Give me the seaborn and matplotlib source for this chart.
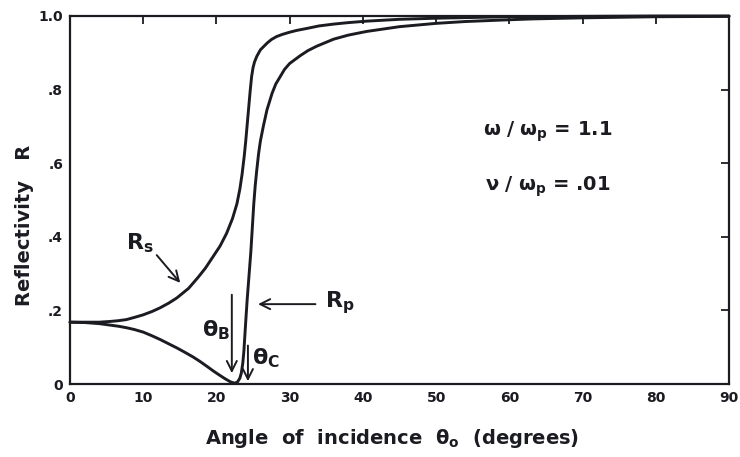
import matplotlib
matplotlib.use("Agg")
import matplotlib.pyplot as plt
import seaborn as sns
import pandas as pd

# Reflectivity of an s- and p-polarised wave at a plasma boundary
rs_angle = [0, 2, 4, 5.5, 6.6, 7.7, 8.8, 10, 11.2, 12.3, 13.5, 14.6, 15.4,
            16.2, 17.5, 18.5, 19.5, 20.5, 21.4, 22.2, 22.8, 23.2, 23.5, 23.8,
            24.0, 24.2, 24.4, 24.6, 24.8, 25.0, 25.2, 25.5, 26.0, 26.5, 26.9,
            27.5, 28.2, 29.0, 30.0, 31.0, 32.3, 34, 36, 38, 40.5, 45, 50, 55,
            60, 70, 80, 90]
rs_value = [0.168, 0.168, 0.168, 0.170, 0.172, 0.175, 0.181, 0.188, 0.197,
            0.207, 0.220, 0.234, 0.247, 0.26, 0.29, 0.315, 0.345, 0.375, 0.41,
            0.45, 0.49, 0.53, 0.57, 0.62, 0.66, 0.705, 0.75, 0.795, 0.835,
            0.86, 0.875, 0.89, 0.908, 0.918, 0.926, 0.936, 0.944, 0.950,
            0.956, 0.961, 0.966, 0.973, 0.978, 0.982, 0.986, 0.991, 0.994,
            0.996, 0.998, 0.999, 1.0, 1.0]

rp_angle = [0, 2, 4, 5.5, 6.6, 7.7, 8.8, 10, 11.2, 12.3, 13.5, 14.6, 15.7,
            16.8, 17.7, 18.7, 19.6, 20.5, 21.2, 21.9, 22.5, 22.9, 23.2, 23.4,
            23.6, 23.75, 23.9, 24.05, 24.2, 24.45, 24.7, 24.9, 25.1, 25.3,
            25.5, 25.75, 26.0, 26.4, 26.9, 27.6, 28.1, 28.7, 29.3, 30.0, 31.5,
            32.5, 33.7, 36, 38, 40.5, 45, 50, 54, 59, 63, 70, 80, 90]
rp_value = [0.168, 0.167, 0.164, 0.160, 0.157, 0.153, 0.148, 0.141, 0.131,
            0.121, 0.109, 0.098, 0.086, 0.0735, 0.062, 0.048, 0.035, 0.023,
            0.014, 0.006, 0.002, 0.006, 0.016, 0.030, 0.057, 0.090, 0.138,
            0.185, 0.23, 0.295, 0.36, 0.425, 0.49, 0.54, 0.58, 0.625, 0.66,
            0.70, 0.745, 0.79, 0.815, 0.835, 0.855, 0.871, 0.893, 0.906,
            0.918, 0.937, 0.948, 0.958, 0.971, 0.980, 0.985, 0.989, 0.992,
            0.995, 0.998, 0.999]

x_ticks = [0, 10, 20, 30, 40, 50, 60, 70, 80, 90]
y_ticks = [0, 0.2, 0.4, 0.6, 0.8, 1.0]
y_tick_labels = ["0", ".2", ".4", ".6", ".8", "1.0"]

ink = "#1b1b22"

sns.set_style("white")
plt.rcParams["font.family"] = ["DejaVu Sans"]
plt.rcParams["mathtext.fontset"] = "dejavusans"

df = pd.concat([
    pd.DataFrame({"angle": rs_angle, "R": rs_value, "pol": "s"}),
    pd.DataFrame({"angle": rp_angle, "R": rp_value, "pol": "p"}),
], ignore_index=True)

fig = plt.figure(figsize=(7.4, 4.57), dpi=100)
ax = fig.add_axes([70 / 740, 1 - 384 / 457, 659 / 740, 368 / 457])

sns.lineplot(data=df, x="angle", y="R", hue="pol", palette={"s": ink, "p": ink},
             linewidth=2.1, legend=False, ax=ax, clip_on=False)
for line in ax.get_lines():
    line.set_solid_joinstyle("round")
    line.set_solid_capstyle("round")

ax.set_xlim(0, 90)
ax.set_ylim(0, 1.0)
ax.set_xticks(x_ticks)
ax.set_yticks(y_ticks)
ax.set_yticklabels(y_tick_labels)
ax.tick_params(direction="in", top=True, right=True, length=6, width=1.3,
               colors=ink, labelsize=10, pad=5)
for lab in ax.get_xticklabels() + ax.get_yticklabels():
    lab.set_fontweight("bold")
for sp in ax.spines.values():
    sp.set_linewidth(1.6)
    sp.set_color(ink)
    sp.set_visible(True)

ax.set_xlabel("")
ax.set_ylabel("")
fig.text(392 / 740, 1 - 438 / 457,
         r"Angle  of  incidence  $\mathbf{\theta_o}$  (degrees)",
         ha="center", va="center", fontsize=14, fontweight="bold", color=ink)
fig.text(25 / 740, 1 - 225 / 457, "Reflectivity   R", rotation=90,
         ha="center", va="center", fontsize=14, fontweight="bold", color=ink)

arrow = dict(arrowstyle="->", color=ink, lw=1.4, mutation_scale=18)

ax.text(9.6, 0.383, r"$\mathbf{R_s}$", ha="center", va="center",
        fontsize=16, color=ink)
ax.annotate("", xy=(15.3, 0.269), xytext=(11.6, 0.356), arrowprops=arrow)

ax.text(36.8, 0.22, r"$\mathbf{R_p}$", ha="center", va="center",
        fontsize=16, color=ink)
ax.annotate("", xy=(25.3, 0.217), xytext=(33.9, 0.217), arrowprops=arrow)

ax.text(20.0, 0.147, r"$\mathbf{\theta_B}$", ha="center", va="center",
        fontsize=16, color=ink)
ax.annotate("", xy=(22.1, 0.022), xytext=(22.1, 0.25), arrowprops=arrow)

ax.text(26.7, 0.071, r"$\mathbf{\theta_C}$", ha="center", va="center",
        fontsize=16, color=ink)
ax.annotate("", xy=(24.3, 0.0), xytext=(24.3, 0.112), arrowprops=arrow,
            annotation_clip=False)

ax.text(56.4, 0.685, r"$\mathbf{\omega\ /\ \omega_p}$ = 1.1", ha="left",
        va="center", fontsize=14, fontweight="bold", color=ink)
ax.text(56.7, 0.535, r"$\mathbf{\nu\ /\ \omega_p}$ = .01", ha="left",
        va="center", fontsize=14, fontweight="bold", color=ink)

fig.savefig("out.png", dpi=100, facecolor="white")
